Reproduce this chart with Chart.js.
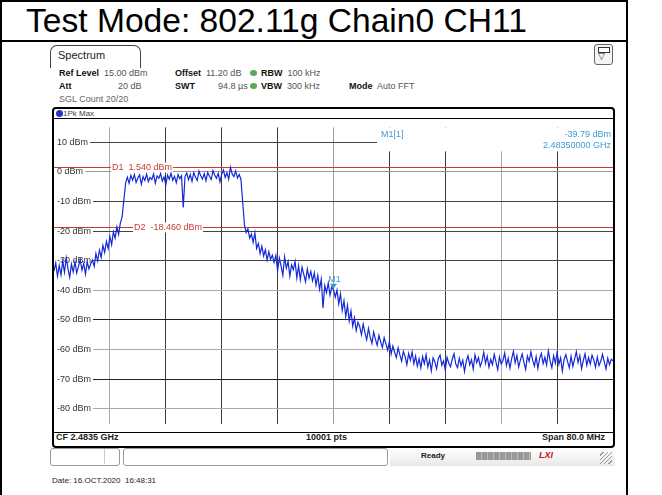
<!DOCTYPE html>
<html>
<head>
<meta charset="utf-8">
<script src="https://cdn.jsdelivr.net/npm/chart.js@4.4.1/dist/chart.umd.min.js"></script>
<style>
  html, body { margin:0; padding:0; background:#fff; }
  #page { position:relative; width:662px; height:495px; overflow:hidden; font-family:"Liberation Sans", Arial, sans-serif; }
  .abs { position:absolute; white-space:nowrap; }
  .hl { position:absolute; background:#000; }
  .hdr { position:absolute; font-size:9px; color:#555; line-height:10px; }
  .hdr b { color:#111; font-weight:bold; }
</style>
</head>
<body>
<div id="page">
  <!-- table frame -->
  <div class="hl" style="left:0;top:0;width:2px;height:495px;"></div>
  <div class="hl" style="left:0;top:0;width:628px;height:2px;"></div>
  <div class="hl" style="left:0;top:40px;width:628px;height:2px;"></div>
  <div class="hl" style="left:626px;top:0;width:2px;height:495px;"></div>
  <div class="abs" style="left:26px;top:3px;font-size:33.6px;line-height:36px;color:#000;">Test Mode: 802.11g Chain0 CH11</div>

  <!-- spectrum tab -->
  <div class="abs" style="left:50px;top:45px;width:89px;height:22px;border:1px solid #444;border-bottom:none;border-radius:7px 7px 0 0;"></div>
  <div class="abs" style="left:58px;top:49px;font-size:11px;color:#222;">Spectrum</div>
  <div class="abs" style="left:594px;top:44px;width:17px;height:19px;border:1px solid #666;border-radius:3px;background:#f4f4f4;"></div>
  <div class="abs" style="left:598px;top:47px;width:10px;height:4px;border:1px solid #333;background:#fff;"></div>
  <div class="abs" style="left:598px;top:51px;font-size:9px;color:#333;">▽</div>

  <div class="hdr" style="left:59px;top:68px;"><b>Ref Level</b>&nbsp; 15.00 dBm</div>
  <div class="hdr" style="left:175px;top:68px;"><b>Offset</b>&nbsp; 11.20 dB</div>
  <div class="hdr" style="left:261px;top:68px;"><b>RBW</b>&nbsp; 100 kHz</div>
  <div class="hdr" style="left:59px;top:81px;"><b>Att</b></div>
  <div class="hdr" style="left:118px;top:81px;">20 dB</div>
  <div class="hdr" style="left:175px;top:81px;"><b>SWT</b></div>
  <div class="hdr" style="left:218px;top:81px;">94.8 µs</div>
  <div class="hdr" style="left:261px;top:81px;"><b>VBW</b>&nbsp; 300 kHz</div>
  <div class="hdr" style="left:349px;top:81px;"><b>Mode</b>&nbsp; Auto FFT</div>
  <div class="hdr" style="left:59px;top:94px;color:#666;">SGL Count 20/20</div>
  <div class="abs" style="left:250px;top:70px;width:7px;height:6px;border-radius:50%;background:#5aa85a;"></div>
  <div class="abs" style="left:250px;top:83px;width:7px;height:6px;border-radius:50%;background:#5aa85a;"></div>

  <!-- panel frame -->
  <div class="abs" style="left:52px;top:107px;width:559px;height:337px;border:2px solid #000;border-radius:4px;"></div>
  <div class="abs" style="left:56px;top:110px;width:7px;height:7px;border-radius:50%;background:#2233cc;"></div>
  <div class="abs" style="left:63px;top:109px;font-size:8px;color:#444;">1Pk Max</div>
  <div class="hl" style="left:54px;top:118px;width:559px;height:1px;"></div>

  <!-- chart -->
  <div class="abs" style="left:54px;top:119px;width:559px;height:313px;">
    <canvas id="c" width="559" height="313"></canvas>
  </div>

  <div class="hl" style="left:54px;top:432px;width:559px;height:1px;"></div>
  <div class="abs" style="left:56px;top:432px;font-size:9px;font-weight:bold;color:#222;">CF 2.4835 GHz</div>
  <div class="abs" style="left:306px;top:432px;font-size:9px;font-weight:bold;color:#222;">10001 pts</div>
  <div class="abs" style="left:542px;top:432px;font-size:9px;font-weight:bold;color:#222;">Span 80.0 MHz</div>

  <!-- status bar -->
  <div class="abs" style="left:50px;top:448px;width:68px;height:16px;border:1px solid #999;border-radius:3px;"></div>
  <div class="abs" style="left:104px;top:449px;width:1px;height:15px;background:#ccc;"></div>
  <div class="abs" style="left:123px;top:448px;width:263px;height:16px;border:1px solid #999;border-radius:3px;"></div>
  <div class="abs" style="left:390px;top:448px;width:225px;height:18px;background:linear-gradient(#fff,#e8e8e8);"></div>
  <div class="abs" style="left:421px;top:451px;font-size:8px;font-weight:bold;color:#222;">Ready</div>
  <div class="abs" style="left:476px;top:452px;width:55px;height:8px;background:repeating-linear-gradient(90deg,#999 0 5px,#bbb 5px 6px);"></div>
  <div class="abs" style="left:539px;top:450px;font-size:9px;font-weight:bold;font-style:italic;color:#c0141e;">LXI</div>
  <div class="abs" style="left:600px;top:452px;width:12px;height:12px;background:repeating-linear-gradient(135deg,transparent 0 2px,#999 2px 3px);"></div>

  <div class="abs" style="left:52px;top:476px;font-size:8px;color:#222;">Date: 16.OCT.2020&nbsp; 16:48:31</div>
</div>

<script>
// ---- data ----
const freqStartMHz = 2443.5;   // CF 2.4835 GHz - span/2
const freqStopMHz = 2523.5;    // CF 2.4835 GHz + span/2
const freqStepMHz = 0.25;      // spacing of the read-off points

const traceLowerBand = [-33.5,-30.8,-35.2,-31.6,-34.8,-30.2,-33.9,-29.1,-32.7,-35.6,-31.2,-33.8,-30.5,-34.1,-31.9,-29.6,-33.2,-31.0,-34.5,-30.4,-32.8,-31.1];
const traceLeftSkirt = [-29.8,-31.9,-27.6,-30.1,-26.4,-28.9,-24.8,-27.2,-23.5,-25.9,-21.8,-24.6,-20.3,-22.4,-18.6,-21.1,-17.2,-15.2,-9.5,-3.8];
const traceChannel = [-1.8,-3.9,-1.2,-2.8,-0.9,-3.6,-2.1,-1.0,-4.2,-1.6,-2.9,-0.8,-3.3,-1.9,-2.6,-0.7,-3.8,-1.4,-2.2,-0.6,-3.1,-1.7,-4.4,-1.1,-2.5,-0.5,-2.9,-1.5,-3.7,-0.9,-2.3,-1.3,
  -12.0,
  -1.6,-0.4,-2.7,-0.9,-3.2,-0.3,-1.8,-2.9,0.2,-1.3,-2.4,-0.6,-3.0,-0.2,-1.5,-2.6,0.4,-1.1,-2.2,-0.5,-3.4,-0.8,0.6,-1.9,-0.3,-2.5,1.54,-0.7,-1.6,0.3,-2.1,-0.9];
const traceRightSkirt = [-2.5,-10.0,-17.8,
  -20.5,-19.2,-22.4,-21.0,-23.8,-20.6,-25.9,-24.2,-27.6,-25.1,
  -28.4,-26.3,-29.8,-27.0,-29.5,-28.1,
  -30.6,-28.2,-33.4,-29.1,-31.8,-34.9,-28.7,-32.5,-30.3,-35.2,-31.4,
  -33.0,-30.2,-35.8,-31.7,-36.4,-32.2,-34.6,-37.1,-32.8,-35.9,-33.6,-36.8,
  -34.1,-38.3,-35.0,-39.6,-36.2,-46.0,-38.4,-40.8,-37.5,-41.6,-38.9,-39.79,
  -42.3,-39.9,-44.6,-41.2,-46.8,-43.5,-48.9,-45.1,-50.4,-47.0,-52.1,
  -49.3,-53.6,-50.8,-52.2,-55.0,-51.4,-54.3,-56.7,-52.9,-55.8,-57.9,-54.1,-56.5,-58.6,-55.2,-57.4,-59.3,-56.0,-58.1,
  -60.2,-57.3,-61.5,-58.8,-60.9,-62.7,-59.4,-61.8,-63.9,-60.6,-62.4,-65.1,-61.3,-63.6,-60.8,-64.8,-62.2,-65.6];
const traceUpperBand = [-63.1,-66.2,-62.4,-64.8,-61.7,-65.9,-63.5,-67.2,-62.8,-64.1,
  -66.5,-63.0,-61.9,-65.3,-63.8,-66.9,-62.6,-64.6,-65.8,-63.2,
  -61.4,-64.9,-66.1,-62.9,-65.5,-63.6,-67.4,-64.0,-62.1,-65.2,
  -63.4,-66.6,-61.8,-64.4,-62.7,-65.7,-63.9,-60.9,-64.7,-62.3,
  -66.0,-63.3,-65.1,-61.6,-64.2,-66.8,-62.5,-64.9,-63.7,-61.2,
  -65.4,-62.9,-66.3,-63.1,-60.6,-64.5,-62.0,-65.9,-63.5,-61.5,
  -64.3,-66.7,-62.2,-64.0,-60.8,-63.6,-65.6,-62.4,-66.4,-63.0,
  -61.3,-64.8,-62.6,-65.2,-60.5,-63.8,-66.1,-62.1,-64.6,-61.0,
  -65.0,-62.8,-67.3,-63.4,-61.7,-64.1,-66.2,-62.3,-65.7,-63.2,
  -60.7,-64.4,-62.0,-66.5,-63.7,-61.4,-65.3,-62.7,-64.9,-61.9,
  -63.5,-66.0,-62.5,-65.4,-63.9,-61.6,-64.2,-66.6,-62.9,-65.1,
  -63.3,-63.8];

const xGridMHz = [2451.5,2459.5,2467.5,2475.5,2483.5,2491.5,2499.5,2507.5,2515.5];
const yTickValues = [10,0,-10,-20,-30,-40,-50,-60,-70,-80];
const yTickLabels = ['10 dBm','0 dBm','-10 dBm','-20 dBm','-30 dBm','-40 dBm','-50 dBm','-60 dBm','-70 dBm','-80 dBm'];
const refLevelDbm = 15;
const bottomDbm = -85;

const d1Dbm = 1.54, d1Label = 'D1  1.540 dBm';
const d2Dbm = -18.46, d2Label = 'D2  -18.460 dBm';
const m1FreqMHz = 2483.5, m1Dbm = -39.79;
const m1Texts = ['M1[1]', '-39.79 dBm', '2.48350000 GHz'];

// ---- build ----
const traceDbm = [].concat(traceLowerBand, traceLeftSkirt, traceChannel, traceRightSkirt, traceUpperBand);
const tracePoints = traceDbm.map((v, i) => ({ x: freqStartMHz + i * freqStepMHz, y: v }));

const xGridColors = ['#a8a8a8','#3a3a3a','#3a3a3a','#3a3a3a','#9a9a9a','#3a3a3a','#3a3a3a','#a8a8a8','#3a3a3a'];
const yGridColors = ['#444','#999','#444','#444','#444','#aaa','#222','#aaa','#222','#aaa'];

const overlay = {
  id: 'overlay',
  beforeDatasetsDraw(chart) {
    const { ctx, chartArea: a, scales: { x, y } } = chart;
    ctx.save();
    // marker info box (covers the grid at top right)
    ctx.fillStyle = '#fff';
    ctx.fillRect(a.right - 236, a.top, 236, 24);
    ctx.fillStyle = '#3d9bd6';
    ctx.font = '9px "Liberation Sans", Arial, sans-serif';
    ctx.textBaseline = 'middle';
    ctx.textAlign = 'left';
    ctx.fillText(m1Texts[0], a.right - 232, a.top + 7);
    ctx.textAlign = 'right';
    ctx.fillText(m1Texts[1], a.right - 2, a.top + 7);
    ctx.fillText(m1Texts[2], a.right - 2, a.top + 18);
    // display lines
    [[d1Dbm, d1Label, 58], [d2Dbm, d2Label, 80]].forEach(([v, label, off]) => {
      const py = Math.round(y.getPixelForValue(v)) + 0.5;
      ctx.strokeStyle = '#c83a32';
      ctx.lineWidth = 1;
      ctx.beginPath(); ctx.moveTo(a.left, py); ctx.lineTo(a.right, py); ctx.stroke();
      ctx.font = '9px "Liberation Sans", Arial, sans-serif';
      ctx.textAlign = 'left';
      const w = ctx.measureText(label).width;
      ctx.fillStyle = '#fff';
      ctx.fillRect(a.left + off - 1, py - 5, w + 2, 10);
      ctx.fillStyle = '#c83a32';
      ctx.fillText(label, a.left + off, py);
    });
    ctx.restore();
  },
  afterDatasetsDraw(chart) {
    const { ctx, scales: { x, y } } = chart;
    const px = x.getPixelForValue(m1FreqMHz), py = y.getPixelForValue(m1Dbm);
    ctx.save();
    ctx.fillStyle = '#3d9bd6';
    ctx.beginPath();
    ctx.moveTo(px - 3.5, py - 6); ctx.lineTo(px + 3.5, py - 6); ctx.lineTo(px, py - 1); ctx.closePath(); ctx.fill();
    ctx.font = '9px "Liberation Sans", Arial, sans-serif';
    ctx.textAlign = 'center';
    ctx.textBaseline = 'bottom';
    ctx.fillText('M1', px + 1, py - 6);
    ctx.restore();
  }
};

new Chart(document.getElementById('c'), {
  type: 'line',
  data: {
    datasets: [{
      data: tracePoints,
      borderColor: '#1428d8',
      borderWidth: 1.2,
      pointRadius: 0,
      tension: 0,
      fill: false
    }]
  },
  options: {
    responsive: false,
    animation: false,
    devicePixelRatio: 1,
    layout: { padding: 0 },
    plugins: { legend: { display: false }, tooltip: { enabled: false } },
    scales: {
      x: {
        type: 'linear',
        min: freqStartMHz,
        max: freqStopMHz,
        afterBuildTicks: s => { s.ticks = xGridMHz.map(v => ({ value: v })); },
        afterFit: s => { s.height = 0; },
        ticks: { display: false },
        border: { display: false },
        grid: { drawTicks: false, lineWidth: 1, color: c => xGridColors[c.index] || '#999' }
      },
      y: {
        type: 'linear',
        min: bottomDbm,
        max: refLevelDbm,
        afterBuildTicks: s => { s.ticks = yTickValues.map(v => ({ value: v })); },
        afterFit: s => { s.width = 0; },
        border: { display: false },
        grid: { drawTicks: false, lineWidth: 1, color: c => yGridColors[c.index] || '#999' },
        ticks: {
          mirror: true,
          padding: 3,
          color: '#333',
          font: { family: '"Liberation Sans", Arial, sans-serif', size: 9 },
          showLabelBackdrop: true,
          backdropColor: '#fff',
          backdropPadding: { top: 1, bottom: 1, left: 4, right: 2 },
          callback: (v, i) => yTickLabels[i]
        }
      }
    }
  },
  plugins: [overlay]
});
</script>
</body>
</html>
